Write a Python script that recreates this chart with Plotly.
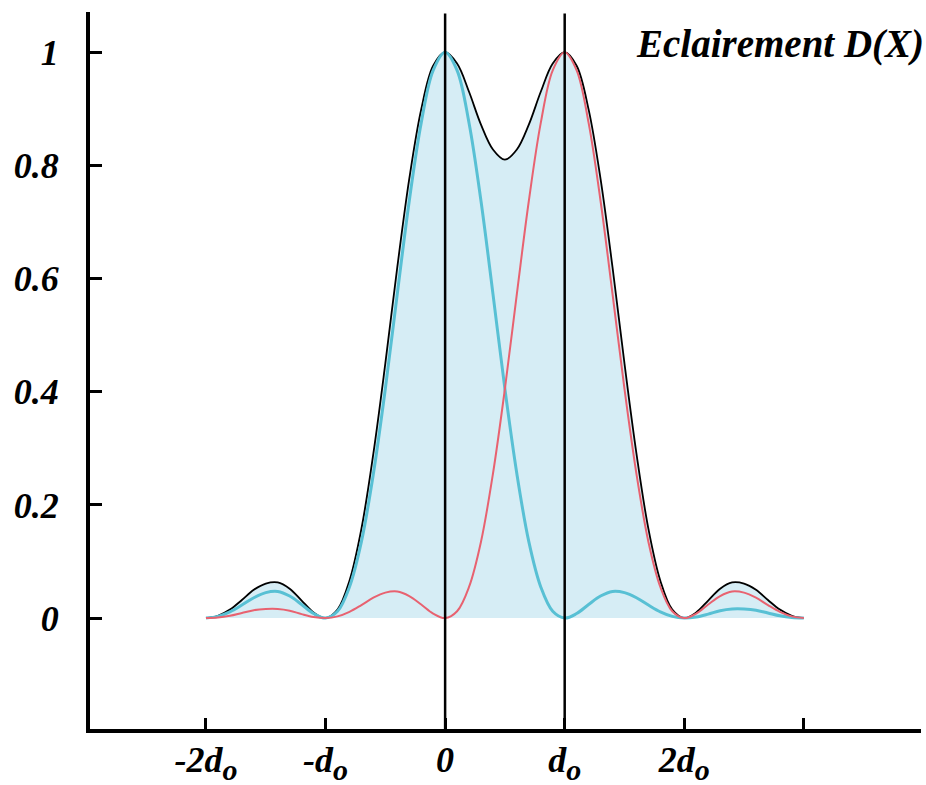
import plotly.graph_objects as go

# Abscissa in units of d_o, sampled every 0.1 d_o from -2 d_o to 3 d_o
x_pos = [round(-2 + 0.1 * i, 1) for i in range(51)]

# Diffraction pattern of the first source, centred on 0
pattern_a = [0.000, 0.003, 0.011, 0.023, 0.036, 0.045, 0.047, 0.039, 0.024, 0.008,
             0.000, 0.012, 0.055, 0.135, 0.255, 0.405, 0.573, 0.737, 0.875, 0.968,
             1.000, 0.968, 0.875, 0.737, 0.573, 0.405, 0.255, 0.135, 0.055, 0.012,
             0.000, 0.008, 0.024, 0.039, 0.047, 0.045, 0.036, 0.023, 0.011, 0.003,
             0.000, 0.002, 0.007, 0.013, 0.016, 0.016, 0.014, 0.009, 0.004, 0.001,
             0.000]

# Diffraction pattern of the second source, centred on d_o
pattern_b = [0.000, 0.001, 0.004, 0.009, 0.014, 0.016, 0.016, 0.013, 0.007, 0.002,
             0.000, 0.003, 0.011, 0.023, 0.036, 0.045, 0.047, 0.039, 0.024, 0.008,
             0.000, 0.012, 0.055, 0.135, 0.255, 0.405, 0.573, 0.737, 0.875, 0.968,
             1.000, 0.968, 0.875, 0.737, 0.573, 0.405, 0.255, 0.135, 0.055, 0.012,
             0.000, 0.008, 0.024, 0.039, 0.047, 0.045, 0.036, 0.023, 0.011, 0.003,
             0.000]

# Resulting illumination D(X)
total = [0.000, 0.004, 0.015, 0.032, 0.050, 0.061, 0.063, 0.052, 0.031, 0.010,
         0.000, 0.015, 0.066, 0.158, 0.291, 0.450, 0.620, 0.776, 0.899, 0.976,
         1.000, 0.980, 0.930, 0.872, 0.828, 0.810, 0.828, 0.872, 0.930, 0.980,
         1.000, 0.976, 0.899, 0.776, 0.620, 0.450, 0.291, 0.158, 0.066, 0.015,
         0.000, 0.010, 0.031, 0.052, 0.063, 0.061, 0.050, 0.032, 0.015, 0.004,
         0.000]

SUB_O = "<sub><span style='font-size:30px'>o</span></sub>"
x_ticks = [-2, -1, 0, 1, 2, 3]
x_labels = ["-2d" + SUB_O, "-d" + SUB_O, "0", "d" + SUB_O, "2d" + SUB_O, ""]
y_ticks = [0, 0.2, 0.4, 0.6, 0.8, 1]
y_labels = ["0", "0.2", "0.4", "0.6", "0.8", "1"]
source_positions = [0, 1]
title_text = "Eclairement D(X)"

FONT = "Liberation Serif"
CYAN = "rgb(88,192,212)"
RED = "rgb(232,98,112)"
FILL = "rgb(214,237,245)"

fig = go.Figure()

fig.add_trace(go.Scatter(
    x=x_pos, y=total, mode="lines", fill="tozeroy", fillcolor=FILL,
    line=dict(color="black", width=1.8, shape="spline"), hoverinfo="skip"))
fig.add_trace(go.Scatter(
    x=x_pos, y=pattern_a, mode="lines",
    line=dict(color=CYAN, width=3, shape="spline"), hoverinfo="skip"))
fig.add_trace(go.Scatter(
    x=x_pos, y=pattern_b, mode="lines",
    line=dict(color=RED, width=2, shape="spline"), hoverinfo="skip"))

for xs in source_positions:
    fig.add_shape(type="line", xref="x", yref="paper", x0=xs, x1=xs, y0=0, y1=0.998,
                  line=dict(color="black", width=2.5), layer="above")

fig.add_annotation(text=title_text, xref="paper", yref="y", x=1, y=1.015,
                   xanchor="right", yanchor="middle", xshift=5, showarrow=False,
                   font=dict(family=FONT, size=39, color="black", weight="bold", style="italic"))

tick_font = dict(family=FONT, size=36, color="black", weight="bold", style="italic")

fig.update_layout(
    width=926, height=785,
    margin=dict(l=90, r=5, t=12, b=56),
    paper_bgcolor="white", plot_bgcolor="white",
    showlegend=False,
    xaxis=dict(range=[-2.97, 3.98], tickvals=x_ticks, ticktext=x_labels,
               showgrid=False, zeroline=False, showline=True, linecolor="black",
               linewidth=4, ticks="inside", ticklen=11, tickwidth=3, tickcolor="black",
               tickfont=tick_font, ticklabelstandoff=-4, automargin=False),
    yaxis=dict(range=[-0.196, 1.071], tickvals=y_ticks, ticktext=y_labels,
               showgrid=False, zeroline=False, showline=True, linecolor="black",
               linewidth=4, ticks="inside", ticklen=12, tickwidth=3, tickcolor="black",
               tickfont=tick_font, ticklabelstandoff=20, automargin=False),
)

fig.write_html("out.html")
